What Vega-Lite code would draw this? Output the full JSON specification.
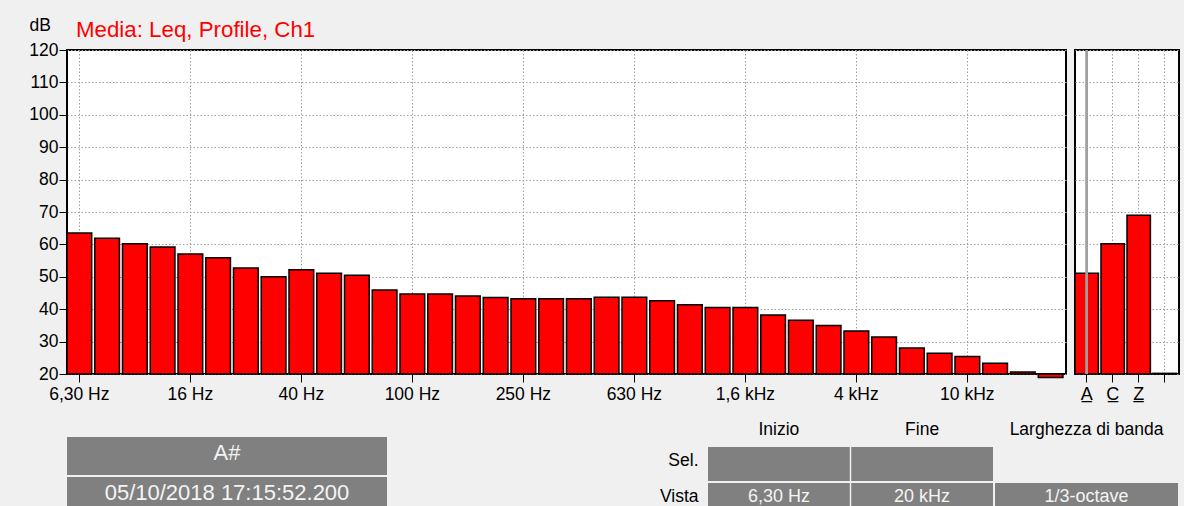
{
  "$schema": "https://vega.github.io/schema/vega-lite/v6.json",
  "autosize": {"type": "none"},
  "padding": {"left": 67, "top": 50, "right": 1117, "bottom": 456},
  "background": "#f0f0f0",
  "config": {
    "font": "Liberation Sans",
    "view": {"stroke": "black", "strokeWidth": 2, "fill": "white"},
    "axis": {"labelColor": "black", "tickColor": "black", "titleColor": "black", "labelFontSize": 17.5, "domain": false, "gridColor": "#a0a0a0", "gridDash": [1.5, 2], "gridWidth": 1, "gridOpacity": 1}
  },
  "datasets": {
    "bands": [
      {"band": "6,30 Hz", "level": 63.5}, {"band": "8 Hz", "level": 61.9}, {"band": "10 Hz", "level": 60.2}, {"band": "12,5 Hz", "level": 59.2},
      {"band": "16 Hz", "level": 57.0}, {"band": "20 Hz", "level": 55.9}, {"band": "25 Hz", "level": 52.7}, {"band": "31,5 Hz", "level": 50.0},
      {"band": "40 Hz", "level": 52.2}, {"band": "50 Hz", "level": 51.1}, {"band": "63 Hz", "level": 50.5}, {"band": "80 Hz", "level": 45.9},
      {"band": "100 Hz", "level": 44.7}, {"band": "125 Hz", "level": 44.7}, {"band": "160 Hz", "level": 44.1}, {"band": "200 Hz", "level": 43.6},
      {"band": "250 Hz", "level": 43.2}, {"band": "315 Hz", "level": 43.2}, {"band": "400 Hz", "level": 43.2}, {"band": "500 Hz", "level": 43.7},
      {"band": "630 Hz", "level": 43.7}, {"band": "800 Hz", "level": 42.6}, {"band": "1 kHz", "level": 41.4}, {"band": "1,25 kHz", "level": 40.5},
      {"band": "1,6 kHz", "level": 40.5}, {"band": "2 kHz", "level": 38.2}, {"band": "2,5 kHz", "level": 36.6}, {"band": "3,15 kHz", "level": 35.0},
      {"band": "4 kHz", "level": 33.3}, {"band": "5 kHz", "level": 31.4}, {"band": "6,3 kHz", "level": 28.0}, {"band": "8 kHz", "level": 26.4},
      {"band": "10 kHz", "level": 25.4}, {"band": "12,5 kHz", "level": 23.3}, {"band": "16 kHz", "level": 20.6}, {"band": "20 kHz", "level": 18.9}
    ],
    "weighted": [
      {"w": "A", "level": 51.1}, {"w": "C", "level": 60.2}, {"w": "Z", "level": 69.0}, {"w": " ", "level": 20.2}
    ],
    "info": [
      {"line": "id", "text": "A#"}, {"line": "time", "text": "05/10/2018 17:15:52.200"}
    ],
    "cells": [
      {"line": "Sel.", "col": "Inizio", "text": ""}, {"line": "Sel.", "col": "Fine", "text": ""},
      {"line": "Vista", "col": "Inizio", "text": "6,30 Hz"}, {"line": "Vista", "col": "Fine", "text": "20 kHz"},
      {"line": "Vista", "col": "Larghezza di banda", "text": "1/3-octave"}
    ]
  },
  "bounds": "flush",
  "spacing": 387,
  "resolve": {"scale": {"x": "independent", "y": "independent"}},
  "vconcat": [
    {
      "bounds": "flush",
      "spacing": 9,
      "resolve": {"scale": {"x": "independent", "y": "independent"}},
      "hconcat": [
        {
          "width": 999, "height": 324,
          "title": {"text": "Media: Leq, Profile, Ch1", "color": "#ff0000", "fontSize": 22.3, "fontWeight": "normal", "anchor": "start", "frame": "group", "dx": 9, "dy": 55, "offset": 12, "baseline": "alphabetic"},
          "data": {"name": "bands"},
          "mark": {"type": "bar", "fill": "#ff0000", "stroke": "#000000", "strokeWidth": 1.5},
          "encoding": {
            "x": {"field": "band", "type": "nominal", "sort": null,
              "scale": {"paddingInner": 0.11, "paddingOuter": 0.055, "align": 0},
              "axis": {"values": ["6,30 Hz", "16 Hz", "40 Hz", "100 Hz", "250 Hz", "630 Hz", "1,6 kHz", "4 kHz", "10 kHz"], "title": null, "labelAngle": 0, "tickSize": 8, "labelPadding": 3, "grid": true, "bandPosition": 0.5}},
            "y": {"field": "level", "type": "quantitative",
              "scale": {"domain": [20, 120], "nice": false, "zero": false},
              "axis": {"values": [20, 30, 40, 50, 60, 70, 80, 90, 100, 110, 120], "title": "dB", "titleAngle": 0, "titleAlign": "left", "titleBaseline": "alphabetic", "titleX": -38, "titleY": -20, "titleFontSize": 17.5, "titleFontWeight": "normal", "tickSize": 8, "labelPadding": 1, "grid": true}},
            "y2": {"datum": 20}
          }
        },
        {
          "width": 104, "height": 324,
          "data": {"name": "weighted"},
          "layer": [
            {
              "mark": {"type": "bar", "fill": "#ff0000", "stroke": "#000000", "strokeWidth": 1.5},
              "encoding": {
                "x": {"field": "w", "type": "nominal", "sort": null,
                  "scale": {"paddingInner": 0.1, "paddingOuter": 0.05, "align": 0},
                  "axis": {"title": null, "labelAngle": 0, "tickSize": 8, "labelPadding": 3, "grid": true, "bandPosition": 0.5, "labelFontSize": 18, "labelExpr": "datum.value === ' ' ? '' : datum.value + '̲'"}},
                "y": {"field": "level", "type": "quantitative",
                  "scale": {"domain": [20, 120], "nice": false, "zero": false},
                  "axis": {"values": [20, 30, 40, 50, 60, 70, 80, 90, 100, 110, 120], "title": null, "labels": false, "ticks": false, "grid": true}},
                "y2": {"datum": 20}
              }
            },
            {
              "mark": {"type": "rule", "color": "#a0a0a0", "strokeWidth": 2},
              "encoding": {"x": {"datum": "A", "type": "nominal"}}
            }
          ]
        }
      ]
    },
    {
      "bounds": "flush",
      "spacing": 321,
      "resolve": {"scale": {"x": "independent", "y": "independent"}},
      "hconcat": [
        {
          "width": 320, "height": 78,
          "view": {"stroke": "transparent", "fill": "transparent"},
          "data": {"name": "info"},
          "encoding": {
            "y": {"field": "line", "type": "nominal", "sort": null, "scale": {"paddingInner": 0.05, "paddingOuter": 0}, "axis": null}
          },
          "layer": [
            {"mark": {"type": "rect", "fill": "#808080"}, "encoding": {"x": {"value": 0}, "x2": {"value": "width"}}},
            {"mark": {"type": "text", "color": "#f4f4f4", "fontSize": 22, "dy": -3, "align": "center"}, "encoding": {"text": {"field": "text"}}}
          ]
        },
        {
          "bounds": "flush",
          "spacing": 2,
          "resolve": {"scale": {"x": "independent", "y": "independent"}},
          "hconcat": [
            {
              "width": 285, "height": 90,
              "view": {"stroke": "transparent", "fill": "transparent"},
              "data": {"name": "cells"},
              "transform": [{"filter": "datum.col !== 'Larghezza di banda'"}],
              "encoding": {
                "x": {"field": "col", "type": "nominal", "sort": ["Inizio", "Fine"], "scale": {"domain": ["Inizio", "Fine"], "paddingInner": 0.01, "paddingOuter": 0},
                  "axis": {"orient": "top", "title": null, "labelAngle": 0, "ticks": false, "tickSize": 0, "labelPadding": 3, "labelBaseline": "alphabetic", "labelFontSize": 17.5, "grid": false}},
                "y": {"field": "line", "type": "nominal", "scale": {"domain": ["Sel.", "Vista"], "paddingInner": 0.056, "paddingOuter": 0.278},
                  "axis": {"title": null, "ticks": false, "tickSize": 0, "labelPadding": 10, "labelOffset": -3, "labelFontSize": 17.5, "grid": false}}
              },
              "layer": [
                {"mark": {"type": "rect", "fill": "#808080"}},
                {"mark": {"type": "text", "color": "#f4f4f4", "fontSize": 18, "dy": -3}, "encoding": {"text": {"field": "text"}}}
              ]
            },
            {
              "width": 183, "height": 90,
              "view": {"stroke": "transparent", "fill": "transparent"},
              "data": {"name": "cells"},
              "transform": [{"filter": "datum.col === 'Larghezza di banda'"}],
              "encoding": {
                "x": {"field": "col", "type": "nominal", "scale": {"domain": ["Larghezza di banda"], "paddingInner": 0, "paddingOuter": 0},
                  "axis": {"orient": "top", "title": null, "labelAngle": 0, "ticks": false, "tickSize": 0, "labelPadding": 3, "labelBaseline": "alphabetic", "labelFontSize": 17.5, "grid": false}},
                "y": {"field": "line", "type": "nominal", "scale": {"domain": ["Sel.", "Vista"], "paddingInner": 0.056, "paddingOuter": 0.278}, "axis": null}
              },
              "layer": [
                {"mark": {"type": "rect", "fill": "#808080"}},
                {"mark": {"type": "text", "color": "#f4f4f4", "fontSize": 18, "dy": -3}, "encoding": {"text": {"field": "text"}}}
              ]
            }
          ]
        }
      ]
    }
  ]
}
